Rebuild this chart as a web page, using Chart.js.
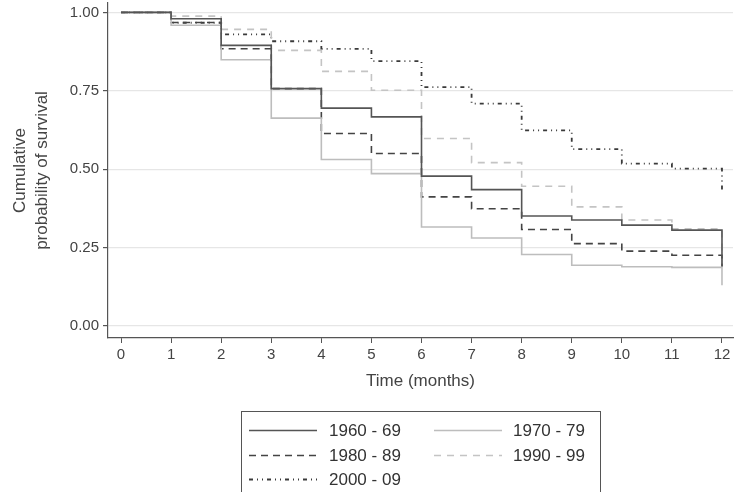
<!DOCTYPE html>
<html><head><meta charset="utf-8">
<script src="https://cdn.jsdelivr.net/npm/chart.js@4"></script>
<style>html,body{margin:0;padding:0;background:#fff}#wrap{width:734px;height:492px;position:relative}</style>
</head><body><div id="wrap"><canvas id="c" width="734" height="492"></canvas></div>
<script>
// ---- data ----
const months = [0,1,2,3,4,5,6,7,8,9,10,11,12];
const s1960 = [1, 0.980, 0.895, 0.757, 0.695, 0.667, 0.478, 0.435, 0.351, 0.338, 0.322, 0.306, 0.19];
const s1970 = [1, 0.959, 0.849, 0.663, 0.531, 0.486, 0.316, 0.281, 0.228, 0.194, 0.189, 0.187, 0.13];
const s1980 = [1, 0.968, 0.884, 0.757, 0.614, 0.550, 0.412, 0.374, 0.308, 0.263, 0.239, 0.226, 0.19];
const s1990 = [1, 0.988, 0.946, 0.879, 0.812, 0.752, 0.598, 0.521, 0.446, 0.380, 0.338, 0.310, 0.20];
const s2000 = [1, 0.967, 0.930, 0.908, 0.884, 0.845, 0.762, 0.709, 0.624, 0.564, 0.518, 0.502, 0.428];
const seriesNames = ['1960 - 69', '1970 - 79', '1980 - 89', '1990 - 99', '2000 - 09'];
const xTicks = [0,1,2,3,4,5,6,7,8,9,10,11,12];
const yTicks = [0, 0.25, 0.5, 0.75, 1];
const xTitle = 'Time (months)';
const yTitle = ['Cumulative', 'probability of survival'];

const FONT = 'Liberation Sans, Arial, Helvetica, sans-serif';
const styles = [
  {color:'#555555', dash:[], width:1.6},
  {color:'#bdbdbd', dash:[], width:1.6},
  {color:'#444444', dash:[7,5], width:1.6},
  {color:'#c4c4c4', dash:[7,6], width:1.6},
  {color:'#3a3a3a', dash:[4,4,1,4,1,4], width:1.8}
];
const allSeries = [s1960, s1970, s1980, s1990, s2000];
const datasets = allSeries.map((s, i) => ({
  label: seriesNames[i],
  data: months.map((m, j) => ({x: m, y: s[j]})),
  borderColor: styles[i].color,
  borderDash: styles[i].dash,
  borderWidth: styles[i].width,
  stepped: 'before',
  pointRadius: 0,
  fill: false,
  tension: 0
}));

const boxLegend = {
  id: 'boxLegend',
  afterDraw(chart) {
    const ctx = chart.ctx;
    ctx.save();
    ctx.strokeStyle = '#555';
    ctx.lineWidth = 1;
    ctx.setLineDash([]);
    ctx.strokeRect(241.5, 411.5, 359, 100);
    const cols = [{lx0:249, lx1:317, tx:329}, {lx0:434, lx1:502, tx:513}];
    const rows = [430, 455, 479];
    chart.data.datasets.forEach((ds, i) => {
      const c = cols[i % 2], y = rows[Math.floor(i / 2)];
      ctx.beginPath();
      ctx.strokeStyle = ds.borderColor;
      ctx.lineWidth = ds.borderWidth;
      ctx.setLineDash(ds.borderDash || []);
      ctx.moveTo(c.lx0, y + 0.5);
      ctx.lineTo(c.lx1, y + 0.5);
      ctx.stroke();
      ctx.setLineDash([]);
      ctx.fillStyle = '#333';
      ctx.font = '17px ' + FONT;
      ctx.textBaseline = 'middle';
      ctx.textAlign = 'left';
      ctx.fillText(ds.label, c.tx, y + 1);
    });
    ctx.restore();
  }
};

new Chart(document.getElementById('c'), {
  type: 'line',
  data: {datasets},
  plugins: [boxLegend],
  options: {
    responsive: false,
    animation: false,
    devicePixelRatio: 1,
    layout: {padding: {top: 3, right: 1, bottom: 100, left: 0}},
    plugins: {legend: {display: false}, tooltip: {enabled: false}},
    scales: {
      x: {
        type: 'linear', min: -0.26, max: 12.22,
        afterBuildTicks: s => { s.ticks = xTicks.map(v => ({value: v})); },
        afterFit: s => { s.height = 54; s.paddingLeft = 0; s.paddingRight = 0; },
        ticks: {font: {family: FONT, size: 15}, color: '#444', padding: 3, maxRotation: 0, autoSkip: false},
        grid: {drawOnChartArea: false, tickLength: 5, tickColor: '#555', tickWidth: 1},
        border: {color: '#555', width: 1.2},
        title: {display: true, text: xTitle, font: {family: FONT, size: 17}, color: '#444', padding: {top: 0, bottom: 0}}
      },
      y: {
        type: 'linear', min: -0.038, max: 1.03,
        afterBuildTicks: s => { s.ticks = yTicks.map(v => ({value: v})); },
        afterFit: s => { s.width = 108; s.paddingTop = 0; s.paddingBottom = 0; },
        ticks: {font: {family: FONT, size: 15}, color: '#444', padding: 4, callback: v => Number(v).toFixed(2)},
        grid: {color: '#e6e6e6', lineWidth: 1.2, tickLength: 5, tickColor: '#555'},
        border: {color: '#555', width: 1.2},
        title: {display: true, text: yTitle, font: {family: FONT, size: 17, lineHeight: 1.25}, color: '#444', padding: {top: 10, bottom: 0}}
      }
    }
  }
});
</script></body></html>
